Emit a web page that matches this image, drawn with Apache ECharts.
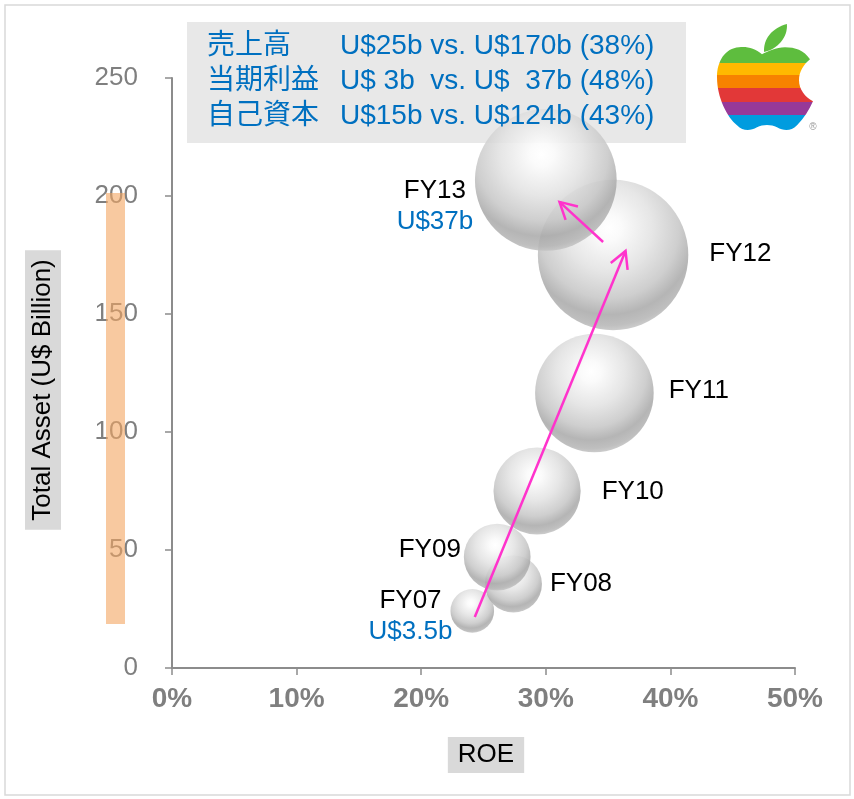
<!DOCTYPE html>
<html>
<head>
<meta charset="utf-8">
<script src="https://cdn.jsdelivr.net/npm/echarts@6/dist/echarts.min.js"></script>
<style>
  html, body { margin: 0; padding: 0; background: #fff; }
  #chart { width: 854px; height: 799px; }
</style>
</head>
<body>
<div id="chart"></div>
<script>
// Apple: ROE vs total assets, bubble area = net income
const years = ['FY07', 'FY08', 'FY09', 'FY10', 'FY11', 'FY12', 'FY13'];
const roe = [24.1, 27.4, 26.1, 29.3, 33.9, 35.4, 30.0];             // %
const totalAsset = [24.2, 35.6, 47.0, 75.0, 116.5, 175.0, 206.8];   // U$ billion
const netIncome = [3.5, 6.0, 8.2, 14.0, 25.9, 41.7, 37.0];          // U$ billion
const incomeNote = ['U$3.5b', '', '', '', '', '', 'U$37b'];

// growth arrows: [fromROE, fromAsset, toROE, toAsset]
const arrowFrom = [[24.3, 21.6], [34.6, 180.5]];
const arrowTo = [[36.4, 176.7], [31.1, 197.5]];

const yTicks = [0, 50, 100, 150, 200, 250];
const xTicks = [0, 10, 20, 30, 40, 50];

const summaryItems = ['売上高', '当期利益', '自己資本'];
const summaryValues = ['U$25b vs. U$170b (38%)', 'U$ 3b  vs. U$  37b (48%)', 'U$15b vs. U$124b (43%)'];

// label placement around each bubble
const labelLayout = [
  { side: 'left', distance: 40, dy: 5 },
  { side: 'right', distance: 8, dy: 0 },
  { side: 'left', distance: 3, dy: -7 },
  { side: 'right', distance: 21, dy: 1 },
  { side: 'right', distance: 15, dy: -2 },
  { side: 'right', distance: 21, dy: -1 },
  { side: 'left', distance: 40, dy: 26 }
];

const LATIN = "'Liberation Sans', Arial, 'Noto Sans CJK JP', sans-serif";
const BLUE = '#0070C0';
const PINK = '#ff33cc';

function grey(v, a) { return 'rgba(' + v + ',' + v + ',' + v + ',' + a + ')'; }
const sphere = new echarts.graphic.RadialGradient(0.47, 0.32, 0.72, [
  { offset: 0, color: grey(255, 0.95) },
  { offset: 0.12, color: grey(250, 0.9) },
  { offset: 0.4, color: grey(226, 0.85) },
  { offset: 0.65, color: grey(198, 0.85) },
  { offset: 0.8, color: grey(168, 0.85) },
  { offset: 0.9, color: grey(180, 0.85) },
  { offset: 1, color: grey(212, 0.85) }
]);

const bubbleData = years.map((name, i) => {
  const lay = labelLayout[i];
  const two = incomeNote[i] !== '';
  return {
    name: name,
    value: [roe[i], totalAsset[i], netIncome[i]],
    label: {
      show: true,
      position: lay.side,
      distance: lay.distance,
      offset: [0, lay.dy],
      align: two ? 'center' : (lay.side === 'left' ? 'right' : 'left'),
      formatter: two ? '{a|' + name + '}\n{b|' + incomeNote[i] + '}' : '{a|' + name + '}',
      rich: {
        a: { color: '#000', fontSize: 26, fontFamily: LATIN, lineHeight: 31 },
        b: { color: BLUE, fontSize: 26, fontFamily: LATIN, lineHeight: 31 }
      }
    }
  };
});

const arrowData = arrowFrom.map((f, i) => [f[0], f[1], arrowTo[i][0], arrowTo[i][1]]);

function renderArrow(params, api) {
  const p1 = api.coord([api.value(0), api.value(1)]);
  const p2 = api.coord([api.value(2), api.value(3)]);
  const ang = Math.atan2(p1[1] - p2[1], p1[0] - p2[0]);
  const len = 19, spread = 0.5;
  const w1 = [p2[0] + len * Math.cos(ang + spread), p2[1] + len * Math.sin(ang + spread)];
  const w2 = [p2[0] + len * Math.cos(ang - spread), p2[1] + len * Math.sin(ang - spread)];
  return {
    type: 'group',
    children: [
      { type: 'line', shape: { x1: p1[0], y1: p1[1], x2: p2[0], y2: p2[1] },
        style: { stroke: PINK, lineWidth: 2.5 } },
      { type: 'polyline', shape: { points: [w1, p2, w2] },
        style: { stroke: PINK, lineWidth: 2.5, fill: null } }
    ]
  };
}

// rainbow apple logo
function renderLogo() {
  const body = 'M 45 9 C 38 3, 30 1, 22 2 C 8 3, 0 16, 0 32 C 0 52, 10 72, 20 80 ' +
    'C 26 86, 33 86, 40 82 C 46 79, 54 79, 60 82 C 67 86, 74 86, 80 80 ' +
    'C 87 73, 92 65, 96 56 C 88 52, 82 44, 82 35 C 82 26, 87 19, 93 14 ' +
    'C 87 5, 78 2, 68 2 C 59 2, 51 6, 45 9 Z';
  const leaf = 'M 0 28 C -1 15, 8 4, 23 0 C 24 13, 14 25, 0 28 Z';
  const cuts = [0.19, 0.34, 0.49, 0.66, 0.82];
  const cols = ['#5ebd3e', '#ffb900', '#f78200', '#e23838', '#973999', '#009cdf'];
  const stops = [];
  cols.forEach((c, i) => {
    stops.push({ offset: i === 0 ? 0 : cuts[i - 1], color: c });
    stops.push({ offset: i === cols.length - 1 ? 1 : cuts[i], color: c });
  });
  return {
    type: 'group',
    children: [
      { type: 'path', shape: { pathData: body, x: 717, y: 47, width: 96, height: 83, layout: 'cover' },
        style: { fill: new echarts.graphic.LinearGradient(0, 0, 0, 1, stops) } },
      { type: 'path', shape: { pathData: leaf, x: 764, y: 24, width: 23, height: 28, layout: 'cover' },
        style: { fill: '#5ebd3e' } },
      { type: 'text', x: 813, y: 127,
        style: { text: '®', fill: '#999', fontSize: 10, fontFamily: LATIN, align: 'center', verticalAlign: 'middle' } }
    ]
  };
}

const graphics = [
  { type: 'rect', z: -10, shape: { x: 5, y: 5, width: 845, height: 790 },
    style: { fill: null, stroke: '#d9d9d9', lineWidth: 1.5 } },
  { type: 'rect', z: -5, shape: { x: 187, y: 22, width: 499, height: 121 },
    style: { fill: '#e8e8e8' } },
  { type: 'rect', z: 50, shape: { x: 106, y: 193, width: 19, height: 431 },
    style: { fill: 'rgba(243,165,97,0.6)' } },
  { type: 'text', x: 43, y: 390, rotation: Math.PI / 2,
    style: { text: 'Total Asset (U$ Billion)', fill: '#000', fontSize: 26, fontFamily: LATIN,
             align: 'center', verticalAlign: 'middle', backgroundColor: '#d9d9d9', padding: [5, 9] } },
  { type: 'text', x: 486, y: 755,
    style: { text: 'ROE', fill: '#000', fontSize: 26, fontFamily: LATIN,
             align: 'center', verticalAlign: 'middle', backgroundColor: '#d9d9d9', padding: [5, 10] } }
];
const rowY = [46.5, 81, 116.5];
summaryItems.forEach((t, i) => {
  graphics.push({ type: 'text', x: 207, y: rowY[i], z: 5,
    style: { text: t, fill: BLUE, fontSize: 28, fontFamily: LATIN, verticalAlign: 'middle' } });
  graphics.push({ type: 'text', x: 340, y: rowY[i], z: 5,
    style: { text: summaryValues[i], fill: BLUE, fontSize: 28, fontFamily: LATIN, verticalAlign: 'middle' } });
});

const chart = echarts.init(document.getElementById('chart'), null, { renderer: 'canvas' });
chart.setOption({
  animation: false,
  backgroundColor: '#fff',
  grid: { left: 172, right: 59, top: 78, bottom: 131 },
  xAxis: {
    type: 'value', min: xTicks[0], max: xTicks[xTicks.length - 1], interval: 10,
    splitLine: { show: false },
    axisLine: { show: true, lineStyle: { color: '#8c8c8c', width: 2 } },
    axisTick: { show: true, length: 7, lineStyle: { color: '#8c8c8c', width: 1.5 } },
    axisLabel: { formatter: '{value}%', color: '#7f7f7f', fontSize: 28, fontWeight: 'bold',
                 fontFamily: LATIN, margin: 17 }
  },
  yAxis: {
    type: 'value', min: yTicks[0], max: yTicks[yTicks.length - 1], interval: 50,
    splitLine: { show: false },
    axisLine: { show: true, lineStyle: { color: '#8c8c8c', width: 2 } },
    axisTick: { show: true, length: 7, lineStyle: { color: '#8c8c8c', width: 1.5 } },
    axisLabel: { color: '#7f7f7f', fontSize: 26, fontFamily: LATIN, margin: 34 }
  },
  graphic: graphics,
  series: [
    {
      type: 'scatter',
      data: bubbleData,
      symbolSize: v => 23.3 * Math.sqrt(v[2]),
      itemStyle: { color: sphere, opacity: 1 },
      silent: true,
      z: 3
    },
    {
      type: 'custom',
      data: arrowData,
      encode: { x: [0, 2], y: [1, 3] },
      renderItem: renderArrow,
      silent: true,
      z: 5
    },
    {
      type: 'custom',
      coordinateSystem: 'none',
      data: [[0]],
      renderItem: renderLogo,
      silent: true,
      z: 6
    }
  ]
});
</script>
</body>
</html>
